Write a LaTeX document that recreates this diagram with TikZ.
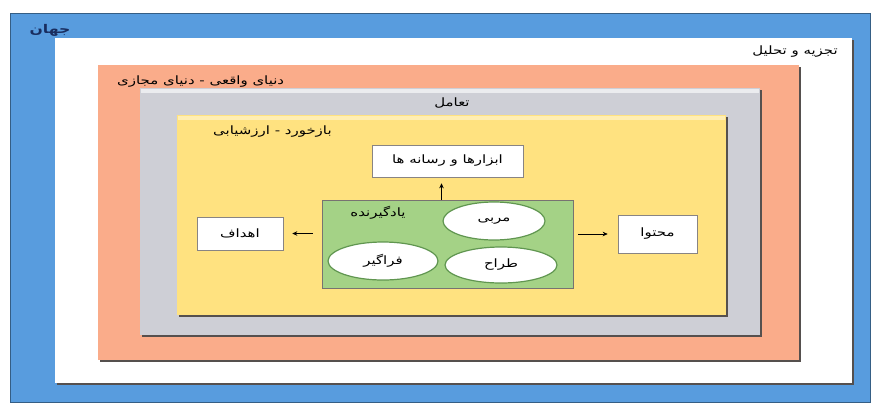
\documentclass[tikz,border=0pt]{standalone}
\usepackage{fontspec}
\newfontfamily\fa[Script=Arabic, FakeStretch=1.3]{DejaVu Sans}
\TeXXeTstate=1
\usetikzlibrary{arrows.meta,shapes.geometric}
\definecolor{worldblue}{RGB}{88,156,222}
\definecolor{orangec}{RGB}{250,172,138}
\definecolor{grayc}{RGB}{206,207,214}
\definecolor{yellowc}{RGB}{255,226,128}
\definecolor{greenc}{RGB}{164,210,134}
\definecolor{greenline}{RGB}{96,150,80}
\definecolor{shadowc}{RGB}{85,80,78}
\definecolor{navy}{RGB}{25,45,95}
\tikzset{
  fatext/.style={font=\fa\fontsize{11.5}{12}\selectfont, inner sep=0pt},
  whitebox/.style={draw=shadowc!70, line width=0.6pt, fill=white, fatext,
    minimum width=#1, inner sep=0pt},
  oval/.style={ellipse, draw=greenline, line width=1.2pt, fill=white, fatext, inner sep=0pt},
  arr/.style={-{Stealth[length=5pt,width=4.5pt]}, line width=0.8pt, black}
}
\begin{document}
\begin{tikzpicture}[x=1pt,y=-1pt]
\useasboundingbox (0,0) rectangle (874,405);
\fill[white] (0,0) rectangle (874,405);
% world
\fill[worldblue] (10,13) rectangle (870,402);
\draw[worldblue!60!black, line width=0.5pt] (10,13) rectangle (870,402);
% analysis (white)
\fill[shadowc] (57,40) rectangle (854,385);
\fill[white] (55,38) rectangle (852,383);
% real / virtual world (orange)
\fill[shadowc] (100,67) rectangle (801,362);
\fill[orangec] (98,65) rectangle (799,360);
% interaction (gray)
\fill[shadowc] (142,90) rectangle (762,337);
\fill[grayc] (140,88) rectangle (760,335);
\fill[white!60!grayc] (141,89) rectangle (759,93);
% feedback (yellow)
\fill[shadowc] (179,117) rectangle (728,317);
\fill[yellowc] (177,115) rectangle (726,315);
\fill[yellowc!60!white] (178,116) rectangle (725,120);

% labels
\node[fatext, font=\fa\bfseries\fontsize{12}{13}\selectfont, text=navy] (lworld) at (50,30) {\beginR جهان\endR};
\node[fatext, anchor=east] (lanalysis) at (838,52) {\beginR تجزیه و تحلیل\endR};
\node[fatext, anchor=west] (lreal) at (117,82) {\beginR دنیای واقعی - دنیای مجازی\endR};
\node[fatext] (linter) at (452,103) {\beginR تعامل\endR};
\node[fatext, anchor=west] (lfeed) at (213,132) {\beginR بازخورد - ارزشیابی\endR};

% inner nodes
\node[whitebox=151pt, minimum height=32pt] (tools) at (447.5,161) {\beginR ابزارها و رسانه ها\endR};
\node[whitebox=86pt, minimum height=33pt] (goals) at (240,233.5) {\beginR اهداف\endR};
\node[whitebox=79pt, minimum height=38pt] (content) at (657.5,234) {\beginR محتوا\endR};
\node[draw=shadowc!80, line width=0.7pt, fill=greenc, minimum width=251pt, minimum height=88pt, inner sep=0pt] (learner) at (447.5,244) {};
\node[fatext] (llearner) at (378,213) {\beginR یادگیرنده\endR};
\node[oval, minimum width=102pt, minimum height=38pt] (coach) at (494,221) {\beginR مربی\endR};
\node[oval, minimum width=110pt, minimum height=38pt] (student) at (383,261) {\beginR فراگیر\endR};
\node[oval, minimum width=112pt, minimum height=36pt] (designer) at (501,265) {\beginR طراح\endR};

% connectors
\draw[arr, shorten >=6pt] ([xshift=-6pt]learner.north) -- ([xshift=-6pt]tools.south);
\draw[arr, shorten <=9pt, shorten >=9pt] (learner.west |- goals.east) -- (goals.east);
\draw[arr, shorten <=5pt, shorten >=10pt] (learner.east |- content.west) -- (content.west);
\end{tikzpicture}
\end{document}
